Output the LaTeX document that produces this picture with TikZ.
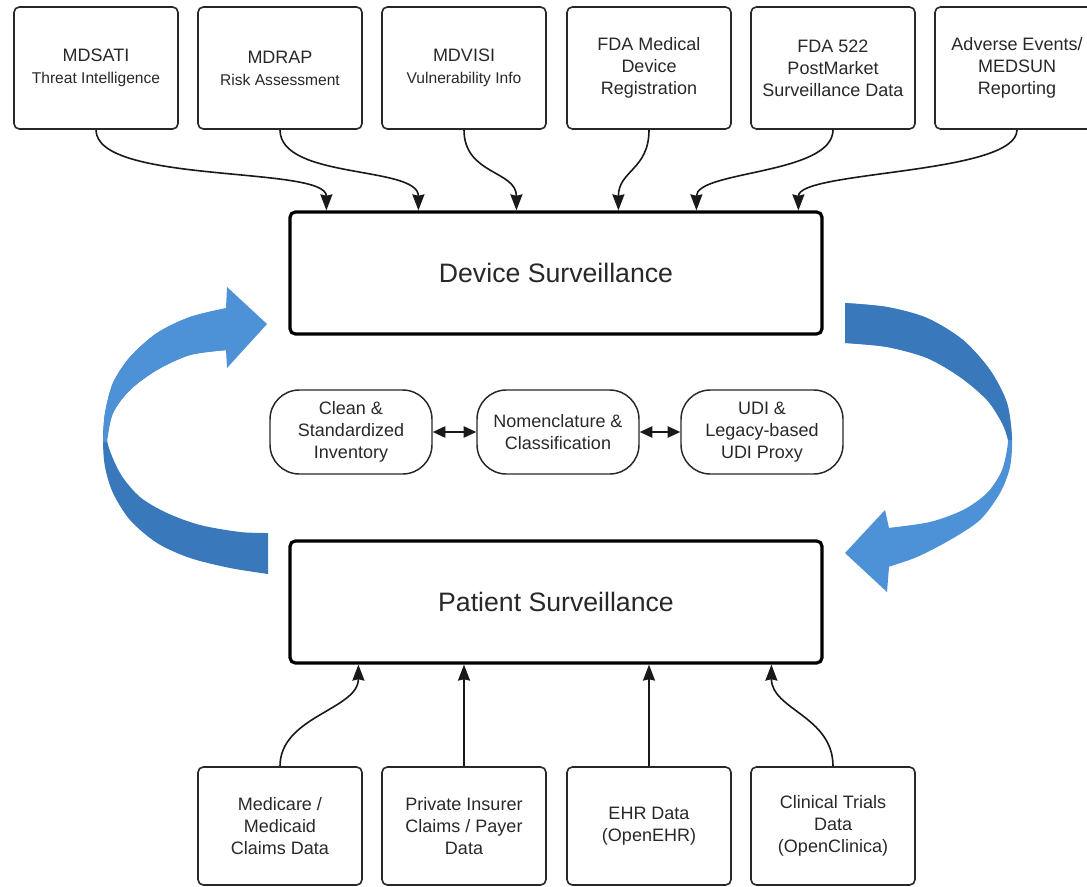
\documentclass[tikz,border=0pt]{standalone}
\usepackage{fontspec}
\setmainfont{Liberation Sans}
\usetikzlibrary{arrows.meta,calc}
\definecolor{ribbonlight}{RGB}{77,145,214}
\definecolor{ribbondark}{RGB}{58,120,188}
\definecolor{inkgray}{RGB}{40,40,40}
\begin{document}
\begin{tikzpicture}[x=0.75pt,y=-0.75pt,
  srcbox/.style={draw=inkgray, line width=1.2pt, rounded corners=4pt,
    minimum width=123pt, minimum height=91.5pt, align=center, inner sep=0pt,
    text=inkgray, font=\fontsize{13.5}{16.5}\selectfont},
  feedbox/.style={srcbox, minimum height=88.5pt},
  mainbox/.style={draw=black, line width=2.4pt, rounded corners=4pt,
    minimum width=399pt, minimum height=91.5pt, text=inkgray,
    font=\fontsize{20}{24}\selectfont},
  pill/.style={draw=inkgray, line width=1.1pt, rounded corners=22pt,
    minimum width=121.5pt, minimum height=63pt, align=center, inner sep=0pt,
    text=inkgray, font=\fontsize{13.5}{16.5}\selectfont},
  feed/.style={-{Stealth[length=12pt,width=9pt,inset=1pt]}, line width=1.2pt, draw=black!90},
  link/.style={{Triangle[length=9.5pt,width=8.5pt]}-{Triangle[length=9.5pt,width=8.5pt]}, line width=1.2pt, draw=black!90}
]
\useasboundingbox (0,0) rectangle (1087,887);
\clip (0,0) rectangle (1087,887);

% left ribbon arrow: dark back face, light front face, head to the right
\fill[ribbondark] plot[smooth] coordinates {(227,308) (190,317) (157,333) (130,357) (113,383) (105,413) (103,440) (105,467) (113,493) (130,520) (157,543) (190,558) (230,568) (268,574)}
  -- plot[smooth] coordinates {(268,533) (240,532) (200,525) (167,513) (140,497) (120,473) (107,440) (113,413) (130,390) (157,370) (190,355) (227,350)} -- cycle;
\fill[ribbonlight] plot[smooth] coordinates {(227,308) (190,317) (157,333) (130,357) (113,383) (105,413) (103,442)}
  -- plot[smooth] coordinates {(107,442) (113,413) (130,390) (157,370) (190,355) (227,350)} -- cycle;
\fill[ribbonlight] (226,308) -- (227,287) -- (267,324) -- (227,368) -- (226,350) -- cycle;

% right ribbon arrow: dark top face, light lower face, head to the left
\fill[ribbonlight] plot[smooth] coordinates {(845,303) (887,307) (927,318) (963,340) (990,370) (1007,403) (1012,437) (1010,467) (1000,493) (980,520) (950,540) (917,557) (888,567)}
  -- plot[smooth] coordinates {(888,528) (930,522) (963,510) (987,493) (1002,470) (1008,440) (1002,423) (987,400) (960,377) (927,358) (887,347) (845,343)} -- cycle;
\fill[ribbondark] plot[smooth] coordinates {(845,303) (887,307) (927,318) (963,340) (990,370) (1007,403) (1012,440)}
  -- plot[smooth] coordinates {(1008,440) (1002,423) (987,400) (960,377) (927,358) (887,347) (845,343)} -- cycle;
\fill[ribbonlight] (889,528) -- (885,510) -- (845,553) -- (887,592) -- (889,567) -- cycle;

% data sources feeding device surveillance
\node[srcbox] (t1) at (96,68)  {MDSATI\\{\fontsize{11.7}{13.5}\selectfont Threat Intelligence}};
\node[srcbox] (t2) at (280,68) {MDRAP\\{\fontsize{11.7}{13.5}\selectfont Risk Assessment}};
\node[srcbox] (t3) at (464,68) {MDVISI\\{\fontsize{11.7}{13.5}\selectfont Vulnerability Info}};
\node[srcbox] (t4) at (649,68) {FDA Medical\\Device\\Registration};
\node[srcbox] (t5) at (833,68) {FDA 522\\PostMarket\\Surveillance Data};
\node[srcbox] (t6) at (1017,68) {Adverse Events/\\MEDSUN\\Reporting};

% the two surveillance stages
\node[mainbox] (dev) at (556,273) {Device Surveillance};
\node[mainbox] (pat) at (556,602) {Patient Surveillance};

% shared device identification layer
\node[pill] (p1) at (351,432) {Clean \&\\Standardized\\Inventory};
\node[pill] (p2) at (558,432) {Nomenclature \&\\Classification};
\node[pill] (p3) at (762,432) {UDI \&\\Legacy-based\\UDI Proxy};

% data sources feeding patient surveillance
\node[feedbox] (b1) at (280,826) {Medicare /\\Medicaid\\Claims Data};
\node[feedbox] (b2) at (464,826) {Private Insurer\\Claims / Payer\\Data};
\node[feedbox] (b3) at (649,826) {EHR Data\\(OpenEHR)};
\node[feedbox] (b4) at (833,826) {Clinical Trials\\Data\\(OpenClinica)};

% connectors into device surveillance
\draw[feed] (t1.south) .. controls +(0,55) and +(0,-45) .. ($(dev.north west)+(38,0)$);
\draw[feed] (t2.south) .. controls +(0,50) and +(0,-45) .. ($(dev.north west)+(130,0)$);
\draw[feed] (t3.south) .. controls +(0,45) and +(0,-40) .. ($(dev.north west)+(228,0)$);
\draw[feed] (t4.south) .. controls +(0,40) and +(0,-40) .. ($(dev.north west)+(330,0)$);
\draw[feed] (t5.south) .. controls +(0,45) and +(0,-40) .. ($(dev.north west)+(408,0)$);
\draw[feed] (t6.south) .. controls +(0,45) and +(0,-40) .. ($(dev.north west)+(510,0)$);

% links between identification steps
\draw[link] (p1.east) -- (p2.west);
\draw[link] (p2.east) -- (p3.west);

% connectors into patient surveillance
\draw[feed] (b1.north) .. controls +(0,-50) and +(0,45) .. ($(pat.south west)+(70,0)$);
\draw[feed] (b2.north) -- (b2.north |- pat.south);
\draw[feed] (b3.north) -- (b3.north |- pat.south);
\draw[feed] (b4.north) .. controls +(0,-50) and +(0,45) .. ($(pat.south west)+(483,0)$);
\end{tikzpicture}
\end{document}
